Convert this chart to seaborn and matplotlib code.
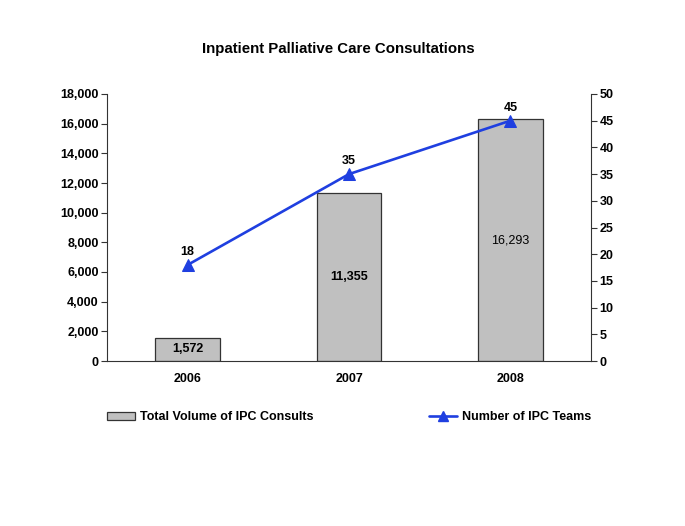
import matplotlib
matplotlib.use("Agg")
import matplotlib.pyplot as plt
import seaborn as sns
import pandas as pd
from matplotlib.patches import Patch
from matplotlib.lines import Line2D
from matplotlib.ticker import FuncFormatter, MultipleLocator

years = ["2006", "2007", "2008"]
consults = [1572, 11355, 16293]
teams = [18, 35, 45]
bar_label = "Total Volume of IPC Consults"
line_label = "Number of IPC Teams"
title = "Inpatient Palliative Care Consultations"

sns.set_style("white")
plt.rcParams["font.family"] = ["Liberation Sans", "DejaVu Sans"]
plt.rcParams["text.color"] = "black"
plt.rcParams["xtick.color"] = "black"
plt.rcParams["ytick.color"] = "black"
plt.rcParams["axes.labelcolor"] = "black"

FS = 9

fig = plt.figure(figsize=(6.85, 5.26), dpi=100)
ax = fig.add_axes([107/685, 1-361/526, (591-107)/685, (361-94)/526])

df = pd.DataFrame({"year": years, "consults": consults, "teams": teams})
sns.barplot(data=df, x="year", y="consults", ax=ax, color="#c0c0c0",
            edgecolor="#333333", linewidth=0.9, width=0.40, saturation=1)
ax.set_xlim(-0.5, 2.5)
ax.set_ylim(0, 18000)
ax.yaxis.set_major_locator(MultipleLocator(2000))
ax.yaxis.set_major_formatter(FuncFormatter(lambda v, p: f"{int(v):,}"))
ax.set_xlabel("")
ax.set_ylabel("")
ax.set_xticks([0, 1, 2])
ax.set_xticklabels(years, fontsize=FS, fontweight="bold")
ax.set_xticks([-0.5, 0.5, 1.5, 2.5], minor=True)
ax.tick_params(axis="x", which="major", length=0, pad=9)
ax.tick_params(axis="x", which="minor", length=4, width=0.8, direction="out", color="#333333")
ax.tick_params(axis="y", length=4, width=0.8, direction="out", labelsize=FS, color="#333333", pad=2)
for lab in ax.get_yticklabels():
    lab.set_fontweight("bold")
for s in ["top", "right"]:
    ax.spines[s].set_visible(False)
for s in ["left", "bottom"]:
    ax.spines[s].set_color("#333333")
    ax.spines[s].set_linewidth(0.8)

for i, v in enumerate(consults):
    ax.text(i, v / 2, f"{v:,}", ha="center", va="center", fontsize=FS,
            fontweight="bold" if i < 2 else "normal", color="black")

ax2 = ax.twinx()
xs = list(range(len(years)))
line_color = "#1f3fe0"
sns.lineplot(x=xs, y=teams, ax=ax2, color=line_color, linewidth=1.9,
             marker="^", markersize=8.5, markeredgecolor=line_color, legend=False)
ax2.set_ylim(0, 50)
ax2.set_xlim(-0.5, 2.5)
ax2.yaxis.set_major_locator(MultipleLocator(5))
ax2.tick_params(axis="y", length=4, width=0.8, direction="out", labelsize=FS, color="#333333", pad=2)
for lab in ax2.get_yticklabels():
    lab.set_fontweight("bold")
for s in ["top", "left", "bottom"]:
    ax2.spines[s].set_visible(False)
ax2.spines["right"].set_color("#333333")
ax2.spines["right"].set_linewidth(0.8)
ax2.set_ylabel("")
for i, v in enumerate(teams):
    ax2.annotate(str(v), (i, v), xytext=(0, 5), textcoords="offset points",
                 ha="center", va="bottom", fontsize=FS, fontweight="bold")

fig.text(338/685, 1-49/526, title, ha="center", va="center", fontsize=10.8, fontweight="bold")

handles = [Patch(facecolor="#c0c0c0", edgecolor="#333333", linewidth=0.9),
           Line2D([], [], color=line_color, linewidth=1.9, marker="^", markersize=7)]
leg = fig.legend(handles, [bar_label, line_label], ncol=2, loc="center left",
                 bbox_to_anchor=(107/685, 1-417/526), frameon=False,
                 prop={"size": FS, "weight": "bold"}, handlelength=2.2,
                 handleheight=0.6, handletextpad=0.4, columnspacing=9.3,
                 borderpad=0, borderaxespad=0)

fig.savefig("out.png", dpi=100)
